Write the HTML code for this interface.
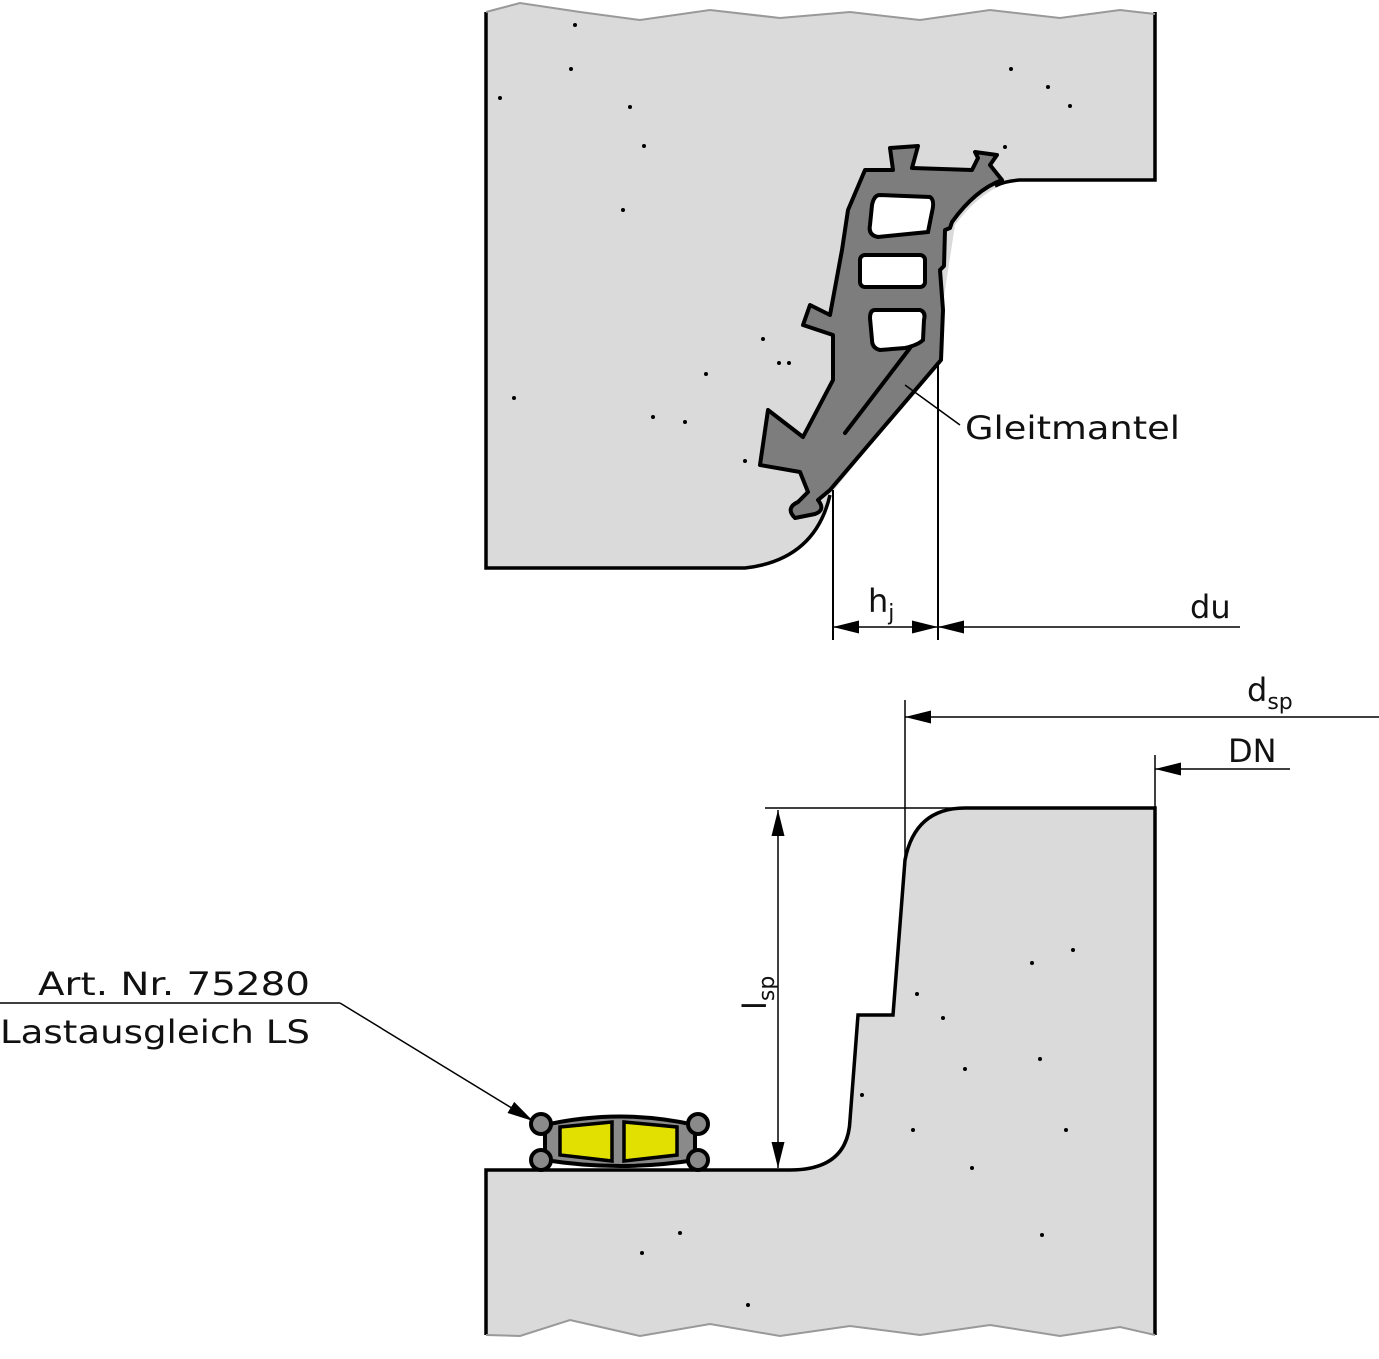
<!DOCTYPE html>
<html><head><meta charset="utf-8"><style>
html,body{margin:0;padding:0;background:#fff}
svg{display:block}
text{font-family:"DejaVu Sans","Liberation Sans",sans-serif;fill:#111}
</style></head><body>
<svg width="1379" height="1359" viewBox="0 0 1379 1359" xmlns="http://www.w3.org/2000/svg">
<defs>
<marker id="b" viewBox="0 0 10 10" refX="10" refY="5" markerWidth="26" markerHeight="26" orient="auto-start-reverse" markerUnits="userSpaceOnUse"><path d="M0,2.5 L10,5 L0,7.5 z" fill="#000"/></marker>
</defs>
<path d="M486,12 L520,3 L580,12 L640,20 L710,10 L780,18 L850,12 L920,20 L990,10 L1060,18 L1120,10 L1155,14 L1155,180 L1020,180 Q985,185 955,225 L942,310 L940,360 L830,495 Q815,560 745,568 L486,568 Z" fill="#dadada"/>
<path d="M486,12 L486,568 L745,568 Q815,560 830,495" fill="none" stroke="#000" stroke-width="3.5"/>
<path d="M1155,12 L1155,180 L1020,180 Q1005,181 995,186" fill="none" stroke="#000" stroke-width="3.5"/>
<path d="M486,12 L520,3 L580,12 L640,20 L710,10 L780,18 L850,12 L920,20 L990,10 L1060,18 L1120,10 L1155,14" fill="none" stroke="#999" stroke-width="2"/>
<path d="M865,170 L893,170 L890,148 L918,146 L912,168 L972,170 L978,158 L975,152 L997,155 L990,165 L1002,180 Q975,190 952,222 L950,228 L945,230 L944,266 L940,270 L943,310 L941,360 L830,490 L818,500 Q826,510 815,514 L795,518 Q785,508 798,502 L808,492 L800,472 L760,465 L768,410 L803,437 L833,380 L833,335 L803,325 L810,305 L830,315 L842,250 L848,210 Z" fill="#7d7d7d" stroke="#000" stroke-width="4" stroke-linejoin="round"/>
<path d="M880,195 L930,197 Q935,200 932,212 L928,232 L878,237 Q868,235 870,225 L872,205 Q874,195 880,195 Z" fill="#fff" stroke="#000" stroke-width="4"/>
<rect x="860" y="255" width="65" height="32" rx="5" fill="#fff" stroke="#000" stroke-width="4"/>
<path d="M875,310 L920,310 Q926,312 924,320 L923,340 Q918,345 905,348 L880,350 Q872,348 872,340 L870,318 Q870,310 875,310 Z" fill="#fff" stroke="#000" stroke-width="4"/>
<line x1="910" y1="348" x2="845" y2="433" stroke="#000" stroke-width="4" stroke-linecap="round"/>
<g fill="#000">
<circle cx="575" cy="25" r="2"/><circle cx="571" cy="69" r="2"/><circle cx="500" cy="98" r="2"/><circle cx="630" cy="107" r="2"/><circle cx="644" cy="146" r="2"/><circle cx="623" cy="210" r="2"/><circle cx="1011" cy="69" r="2"/><circle cx="1048" cy="87" r="2"/><circle cx="1070" cy="106" r="2"/><circle cx="1005" cy="147" r="2"/><circle cx="763" cy="339" r="2"/><circle cx="779" cy="363" r="2"/><circle cx="789" cy="363" r="2"/><circle cx="706" cy="374" r="2"/><circle cx="514" cy="398" r="2"/><circle cx="653" cy="417" r="2"/><circle cx="685" cy="422" r="2"/><circle cx="745" cy="461" r="2"/>
</g>
<line x1="833" y1="490" x2="833" y2="640" stroke="#000" stroke-width="2"/>
<line x1="938" y1="362" x2="938" y2="640" stroke="#000" stroke-width="2"/>
<line x1="833" y1="627" x2="938" y2="627" stroke="#000" stroke-width="1.5" marker-start="url(#b)" marker-end="url(#b)"/>
<line x1="1240" y1="627" x2="938" y2="627" stroke="#000" stroke-width="1.5" marker-end="url(#b)"/>
<line x1="905" y1="385" x2="960" y2="425" stroke="#000" stroke-width="1.5"/>
<text x="965" y="439" font-size="32" textLength="215" lengthAdjust="spacingAndGlyphs">Gleitmantel</text>
<text x="868" y="612" font-size="32">h<tspan font-size="22" dy="8">j</tspan></text>
<text x="1190" y="618" font-size="32">du</text>
<path d="M486,1170 L790,1170 Q848,1170 850,1120 L858,1015 L893,1015 L905,860 Q915,808 965,808 L1155,808 L1155,1335 L1120,1327 L1060,1336 L990,1325 L920,1335 L850,1326 L780,1336 L710,1324 L640,1336 L570,1320 L520,1336 L486,1335 Z" fill="#dadada"/>
<path d="M486,1335 L486,1170 L790,1170 Q848,1170 850,1120 L858,1015 L893,1015 L905,860 Q915,808 965,808 L1155,808 L1155,1335" fill="none" stroke="#000" stroke-width="3.5"/>
<path d="M486,1335 L520,1336 L570,1320 L640,1336 L710,1324 L780,1336 L850,1326 L920,1335 L990,1325 L1060,1336 L1120,1327 L1155,1335" fill="none" stroke="#999" stroke-width="2"/>
<g fill="#000">
<circle cx="1073" cy="950" r="2"/><circle cx="1032" cy="963" r="2"/><circle cx="917" cy="994" r="2"/><circle cx="943" cy="1018" r="2"/><circle cx="1040" cy="1059" r="2"/><circle cx="965" cy="1069" r="2"/><circle cx="862" cy="1095" r="2"/><circle cx="913" cy="1130" r="2"/><circle cx="1066" cy="1130" r="2"/><circle cx="972" cy="1168" r="2"/><circle cx="680" cy="1233" r="2"/><circle cx="1042" cy="1235" r="2"/><circle cx="642" cy="1253" r="2"/><circle cx="748" cy="1305" r="2"/>
</g>
<g stroke="#000" stroke-width="4">
<path d="M545,1125 Q620,1108 695,1125 L695,1160 Q620,1172 545,1160 Z" fill="#8a8a8a"/>
<circle cx="541" cy="1124" r="10" fill="#8a8a8a"/><circle cx="698" cy="1124" r="10" fill="#8a8a8a"/>
<circle cx="541" cy="1160" r="10" fill="#8a8a8a"/><circle cx="698" cy="1160" r="10" fill="#8a8a8a"/>
<path d="M560,1127 L612,1122 L612,1161 L560,1155 Z" fill="#e2e000" stroke-width="3.5"/>
<path d="M624,1122 L677,1127 L677,1155 L624,1161 Z" fill="#e2e000" stroke-width="3.5"/>
</g>
<line x1="905" y1="700" x2="905" y2="860" stroke="#000" stroke-width="1.5"/>
<line x1="1379" y1="717" x2="905" y2="717" stroke="#000" stroke-width="1.5" marker-end="url(#b)"/>
<text x="1247" y="701" font-size="32">d<tspan font-size="22" dy="8">sp</tspan></text>
<line x1="1155" y1="755" x2="1155" y2="808" stroke="#000" stroke-width="1.5"/>
<line x1="1290" y1="769" x2="1155" y2="769" stroke="#000" stroke-width="1.5" marker-end="url(#b)"/>
<text x="1228" y="762" font-size="32">DN</text>
<line x1="765" y1="808" x2="960" y2="808" stroke="#000" stroke-width="1.5"/>
<line x1="778" y1="810" x2="778" y2="1168" stroke="#000" stroke-width="1.5" marker-start="url(#b)" marker-end="url(#b)"/>
<text transform="translate(766,1010) rotate(-90)" font-size="32">l<tspan font-size="22" dy="8">sp</tspan></text>
<line x1="0" y1="1003" x2="340" y2="1003" stroke="#000" stroke-width="1.5"/>
<line x1="340" y1="1003" x2="533" y2="1121" stroke="#000" stroke-width="1.5" marker-end="url(#b)"/>
<text x="38" y="995" font-size="32" textLength="272" lengthAdjust="spacingAndGlyphs">Art. Nr. 75280</text>
<text x="0" y="1043" font-size="32" textLength="310" lengthAdjust="spacingAndGlyphs">Lastausgleich LS</text>
</svg>
</body></html>
